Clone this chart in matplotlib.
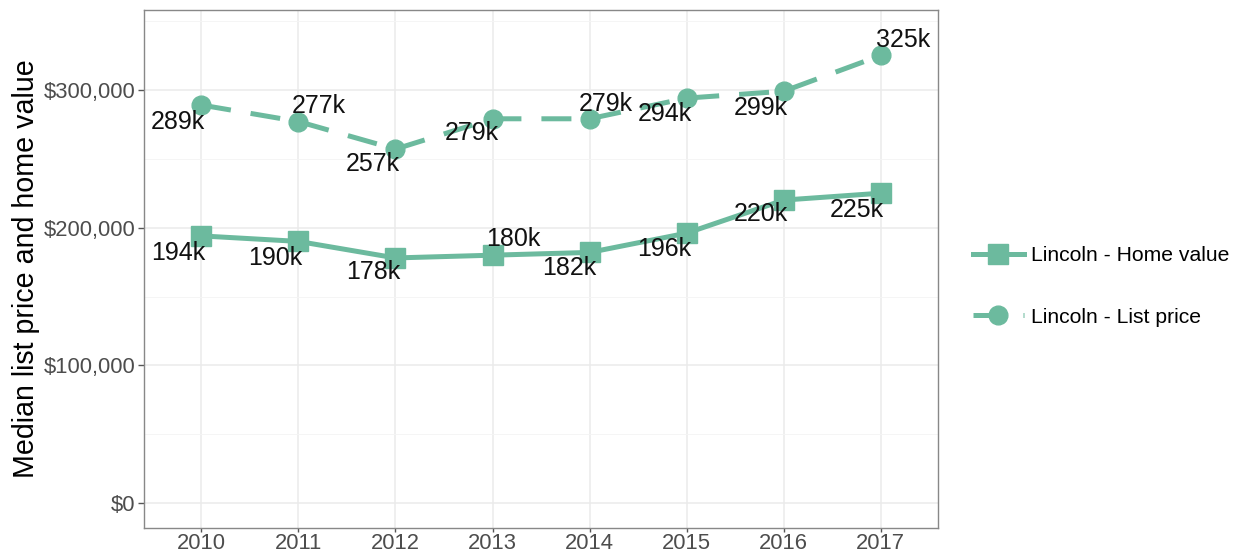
import matplotlib.pyplot as plt
from matplotlib.ticker import FuncFormatter, MultipleLocator

plt.rcParams['font.family'] = ['Liberation Sans', 'DejaVu Sans']

years = ["2010", "2011", "2012", "2013", "2014", "2015", "2016", "2017"]
home_value = [194, 190, 178, 180, 182, 196, 220, 225]   # thousands
list_price = [289, 277, 257, 279, 279, 294, 299, 325]   # thousands
home_labels = ["194k", "190k", "178k", "180k", "182k", "196k", "220k", "225k"]
list_labels = ["289k", "277k", "257k", "279k", "279k", "294k", "299k", "325k"]

# label offsets (points) around each point
home_off = [(-16.5, -12), (-16.5, -12), (-16, -10), (15, 11.5), (-15, -11.5), (-16, -11.5), (-16.5, -10), (-17, -12)]
list_off = [(-17, -12), (15, 11.5), (-16, -11), (-15, -10), (12, 11), (-16, -11.5), (-16.5, -12), (16, 11)]

col = "#6cba9e"
x = list(range(len(years)))
hv = [v * 1000 for v in home_value]
lp = [v * 1000 for v in list_price]

fig = plt.figure(figsize=(12.36, 5.52), dpi=100)
ax = fig.add_axes([0.1165, 0.0435, 0.6425, 0.9385])

ax.plot(x, hv, color=col, lw=3.6, marker="s", ms=15, label="Lincoln - Home value")
ax.plot(x, lp, color=col, lw=3.6, ls=(0, (6, 4)), marker="o", ms=13.5, label="Lincoln - List price")

for i in x:
    ax.annotate(home_labels[i], (x[i], hv[i]), xytext=home_off[i], textcoords="offset points",
                ha="center", va="center", fontsize=18, color="#111111")
    ax.annotate(list_labels[i], (x[i], lp[i]), xytext=list_off[i], textcoords="offset points",
                ha="center", va="center", fontsize=18, color="#111111")

ax.set_xlim(-0.59, 7.59)
ax.set_ylim(-18000, 358000)
ax.set_xticks(x)
ax.set_xticklabels(years)
ax.yaxis.set_major_locator(MultipleLocator(100000))
ax.yaxis.set_minor_locator(MultipleLocator(50000))
ax.yaxis.set_major_formatter(FuncFormatter(lambda v, p: "${:,.0f}".format(v)))
ax.grid(True, which="major", color="#ebebeb", lw=1.1)
ax.grid(True, which="minor", axis="y", color="#f4f4f4", lw=0.6)
ax.set_axisbelow(True)
for s in ax.spines.values():
    s.set_color("#888888")
    s.set_linewidth(1.0)
ax.tick_params(axis="both", which="major", labelsize=15.8, colors="#555555", length=4, width=1, pad=2)
ax.tick_params(axis="x", which="major", length=3, pad=0.5)
ax.tick_params(axis="y", which="minor", length=0)
for t in ax.get_xticklabels() + ax.get_yticklabels():
    t.set_color("#4d4d4d")
ax.set_ylabel("Median list price and home value", fontsize=20.6, labelpad=3)

leg = ax.legend(loc="center left", bbox_to_anchor=(1.02, 0.466), frameon=False, fontsize=15.2,
                handlelength=2.4, handletextpad=0.35, labelspacing=2.0)

fig.savefig("out.png", dpi=100)
